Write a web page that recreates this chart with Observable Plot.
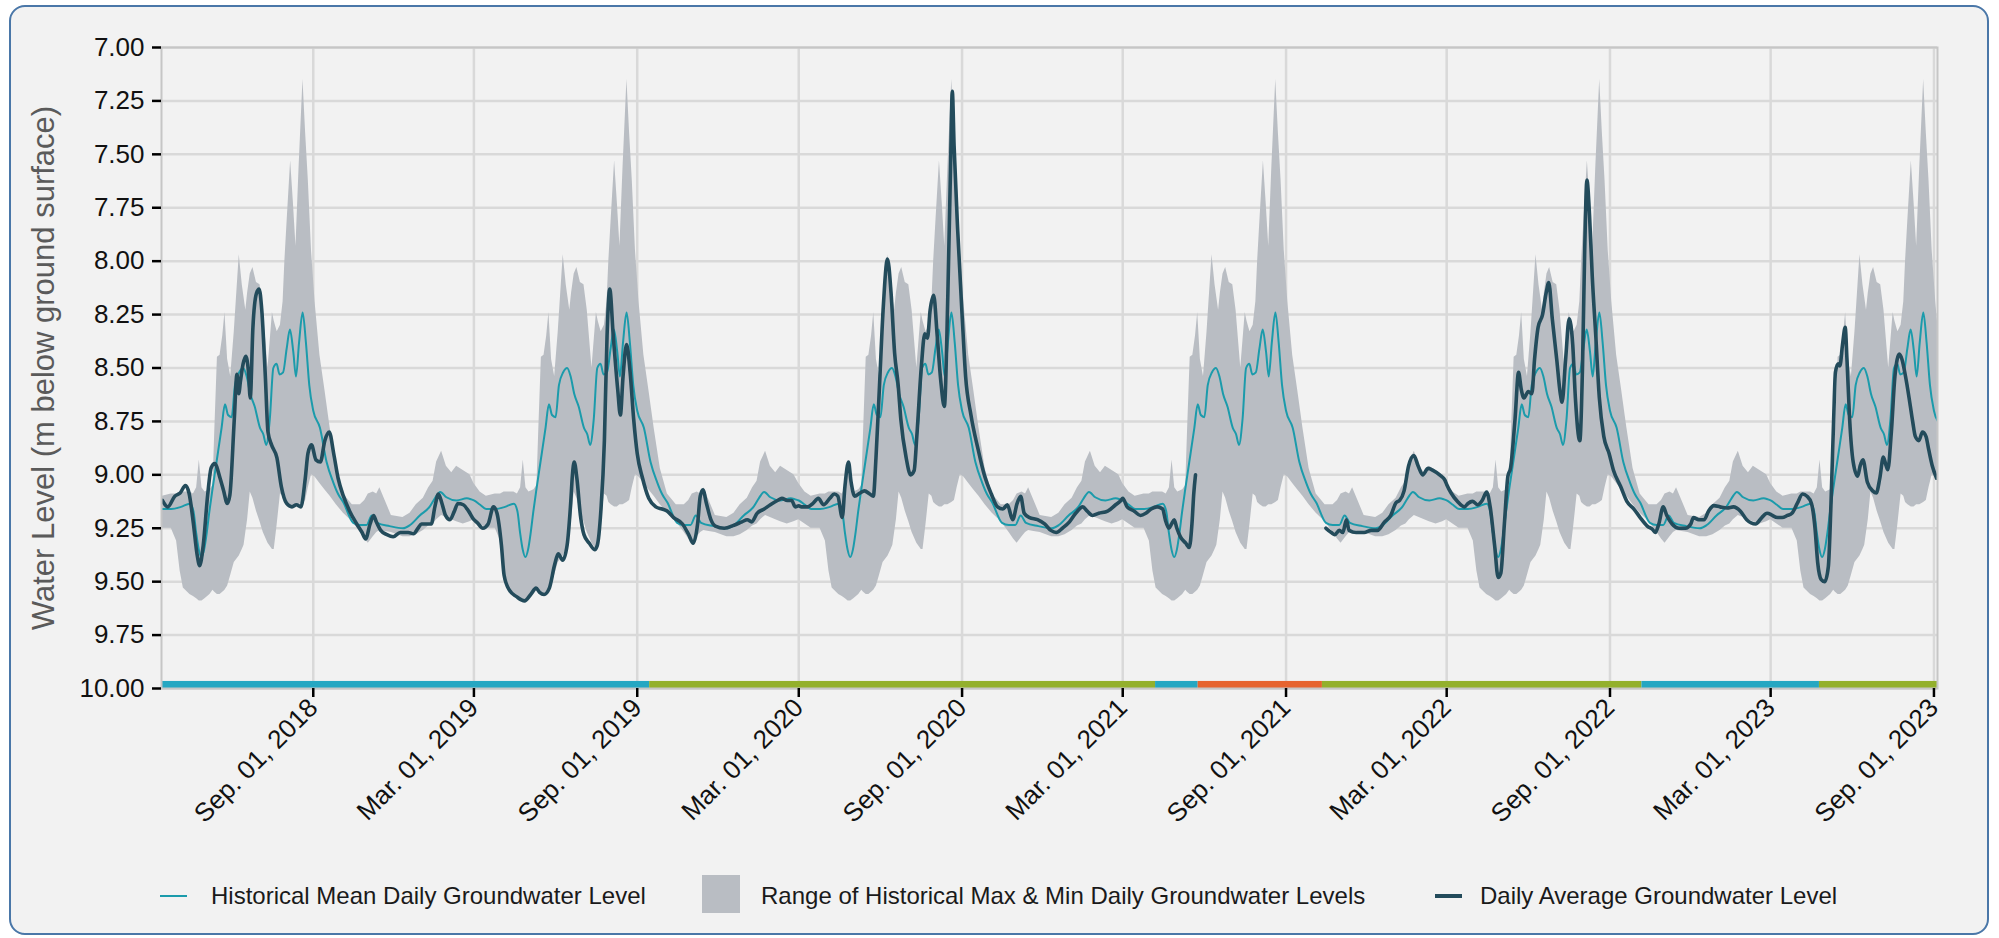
<!DOCTYPE html>
<html>
<head>
<meta charset="utf-8">
<script src="https://cdn.jsdelivr.net/npm/d3@7"></script>
<script src="https://cdn.jsdelivr.net/npm/@observablehq/plot@0.6"></script>
<style>
  html, body { margin: 0; padding: 0; background: #ffffff; }
  body { width: 1999px; height: 938px; position: relative; overflow: hidden; font-family: "Liberation Sans", Arial, sans-serif; }
  #panel { position: absolute; left: 9px; top: 5px; width: 1976px; height: 926px; border: 2px solid #4a77a8; border-radius: 16px; background: #f2f2f2; }
  #chart { position: absolute; left: 0; top: 0; }
  .leg { position: absolute; font-size: 24px; color: #1a1a1a; line-height: 1; white-space: nowrap; }
  .legline { position: absolute; }
  .legrect { position: absolute; background: #b9bdc3; }
</style>
</head>
<body>
<div id="panel"></div>
<div id="chart"></div>
<div id="legend"></div>
<script>
// ---------- axis ticks ----------
const yTicks = [7.00, 7.25, 7.50, 7.75, 8.00, 8.25, 8.50, 8.75, 9.00, 9.25, 9.50, 9.75, 10.00];
const xTicks = ["2018-09-01", "2019-03-01", "2019-09-01", "2020-03-01", "2020-09-01", "2021-03-01",
                "2021-09-01", "2022-03-01", "2022-09-01", "2023-03-01", "2023-09-01"];
const monthAbbr = ["Jan.", "Feb.", "Mar.", "Apr.", "May", "Jun.", "Jul.", "Aug.", "Sep.", "Oct.", "Nov.", "Dec."];
const xDomain = ["2018-03-14", "2023-09-05"];

// ---------- historical statistics (by days since March 1) ----------
const histBandDay = [0, 7, 14, 24, 30, 34, 37.6, 45, 49, 52.6, 55.6, 58.6, 62, 67.6, 71, 73, 76, 79, 82, 84.5,
  87.5, 91, 95, 100.6, 104, 106, 108, 110, 113, 116, 120, 124, 127.7, 133, 138, 140, 142, 143.4, 147, 150,
  152, 154.7, 158.5, 161.5, 164.5, 168, 172.4, 175.4, 178.4, 182, 186, 191.5, 197, 203, 210, 218, 228, 237,
  242, 246, 251.6, 255.5, 259, 265, 272, 285, 293, 300, 308, 314, 319, 323, 328.6, 334, 340, 345.5, 353, 360.5];
const histMax = [9.04, 9.08, 9.10, 9.09, 9.09, 9.08, 9.08, 9.08, 9.09, 9.06, 8.93, 9.06, 9.08, 9.07, 9.05, 8.80, 8.45, 8.44, 8.35, 8.24,
  8.46, 8.54, 8.33, 7.97, 8.11, 8.17, 8.23, 8.15, 8.06, 8.03, 8.10, 8.11, 8.23, 8.50, 8.24, 8.28, 8.31, 8.33, 8.30, 8.19,
  8.00, 7.80, 7.53, 7.72, 7.93, 7.56, 7.15, 7.40, 7.62, 7.95, 8.19, 8.44, 8.60, 8.78, 8.97, 9.09, 9.14, 9.14,
  9.12, 9.09, 9.08, 9.09, 9.06, 9.12, 9.19, 9.20, 9.18, 9.14, 9.11, 9.06, 9.03, 8.94, 8.89, 8.96, 8.99, 8.96, 8.98, 9.00];
const histMin = [9.21, 9.23, 9.25, 9.25, 9.31, 9.45, 9.53, 9.56, 9.57, 9.58, 9.59, 9.59, 9.58, 9.56, 9.54, 9.55, 9.56, 9.56, 9.55, 9.54,
  9.52, 9.47, 9.41, 9.38, 9.35, 9.33, 9.27, 9.21, 9.08, 9.11, 9.17, 9.22, 9.27, 9.32, 9.35, 9.35, 9.28, 9.23, 9.09, 9.10,
  9.13, 9.14, 9.15, 9.15, 9.14, 9.14, 9.13, 9.12, 9.06, 9.00, 9.01, 9.04, 9.07, 9.10, 9.14, 9.18, 9.22, 9.27,
  9.30, 9.32, 9.29, 9.27, 9.26, 9.265, 9.27, 9.29, 9.29, 9.28, 9.26, 9.24, 9.23, 9.21, 9.19, 9.20, 9.21, 9.22, 9.23, 9.22];
const histMeanDay = [0, 7, 14, 24, 35, 45, 49, 52, 55, 58, 61, 64, 67, 70, 75, 80.7, 84.5, 88, 92, 95.8, 100.6, 105,
  109, 113, 118, 124, 127.7, 131, 135, 139, 142.7, 146, 150, 154, 157.7, 161.5, 164.5, 168, 172, 175.7, 179.5,
  184, 191.5, 199, 206.5, 212, 218, 229, 236.6, 244, 250, 256, 270, 285, 293, 304, 315, 321, 327, 334, 345.5, 357, 362];
const histMean = [9.12, 9.14, 9.16, 9.16, 9.15, 9.135, 9.17, 9.27, 9.35, 9.385, 9.35, 9.27, 9.17, 9.08, 8.94, 8.78, 8.67, 8.72, 8.73, 8.58, 8.52, 8.50,
  8.54, 8.62, 8.68, 8.78, 8.81, 8.86, 8.74, 8.50, 8.48, 8.53, 8.52, 8.41, 8.32, 8.425, 8.54, 8.38, 8.24, 8.38, 8.58,
  8.70, 8.78, 8.94, 9.035, 9.09, 9.13, 9.225, 9.235, 9.235, 9.19, 9.225, 9.24, 9.25, 9.235, 9.19, 9.15, 9.11, 9.08, 9.105, 9.12, 9.11, 9.115];
const histSeasons = [2017, 2018, 2019, 2020, 2021, 2022, 2023];

// ---------- daily average groundwater level (days since March 1 of each season) ----------
const day2018 = [14, 20, 28, 34, 40, 44, 49, 53, 56, 60, 65, 69, 73, 79, 83, 87, 90, 95, 98, 100, 102, 105, 108, 111, 113,
  116, 120, 123, 126, 130, 133, 137, 143, 148, 154, 160, 165, 170, 175, 178, 182, 187, 192, 197, 202, 207, 212, 218,
  225, 233, 239, 243, 248, 252, 255, 260, 267, 274, 282, 291, 297, 302, 306, 312, 317, 321, 325, 329, 333, 338, 343,
  347, 353, 359];
const lvl2018 = [9.12, 9.15, 9.10, 9.085, 9.05, 9.085, 9.23, 9.37, 9.425, 9.33, 9.095, 8.967, 8.947, 9.016, 9.075, 9.134, 9.095, 8.74, 8.53, 8.62, 8.56, 8.48, 8.445, 8.52, 8.64,
  8.31, 8.15, 8.13, 8.23, 8.54, 8.80, 8.86, 8.92, 9.055, 9.134, 9.15, 9.14, 9.15, 9.016, 8.90, 8.86, 8.93, 8.94, 8.84, 8.80, 8.90, 9.016, 9.10,
  9.17, 9.23, 9.27, 9.30, 9.23, 9.19, 9.22, 9.26, 9.28, 9.29, 9.27, 9.27, 9.276, 9.25, 9.23, 9.23, 9.23, 9.15, 9.09, 9.134, 9.19, 9.21, 9.17,
  9.134, 9.14, 9.17];
const day2019 = [0, 4, 10, 16, 22, 26, 31, 34, 40, 48, 57, 64, 70, 74, 79, 85, 91, 95, 100, 105, 109, 111, 113, 116, 120,
  124, 130, 136, 139, 143, 147, 150, 153, 157, 162, 165, 168, 172, 176, 180, 184, 190, 197, 205, 212, 218, 225, 235,
  242, 247, 252, 255, 258, 262, 267, 272, 282, 293, 302, 308, 313, 319, 327, 334, 342, 347, 353, 358, 362];
const lvl2019 = [9.21, 9.225, 9.25, 9.23, 9.15, 9.18, 9.33, 9.47, 9.54, 9.57, 9.59, 9.56, 9.53, 9.55, 9.56, 9.53, 9.42, 9.37, 9.40, 9.33, 9.134, 9.00, 8.94, 9.016, 9.19,
  9.28, 9.32, 9.35, 9.33, 9.17, 8.84, 8.35, 8.13, 8.35, 8.60, 8.72, 8.54, 8.39, 8.52, 8.74, 8.90, 9.016, 9.11, 9.15, 9.16, 9.17, 9.20, 9.23,
  9.28, 9.32, 9.23, 9.10, 9.07, 9.134, 9.21, 9.24, 9.25, 9.236, 9.22, 9.21, 9.22, 9.18, 9.16, 9.14, 9.12, 9.11, 9.12, 9.12, 9.15];
const day2020 = [0, 3, 10, 16, 22, 28, 35, 40, 44, 49, 52, 56, 59, 63, 69, 74, 80, 84, 87, 91, 95, 100, 104, 108, 112,
  115, 121, 126, 130, 133, 138, 142, 145, 148, 152, 156, 160, 164, 168, 171, 173, 175, 179, 184, 188, 194, 202, 209,
  217, 224, 230, 235, 241, 246, 250, 254, 260, 269, 277, 284, 290, 297, 305, 312, 320, 325, 331, 338, 348, 357, 363];
const lvl2020 = [9.145, 9.15, 9.15, 9.134, 9.11, 9.14, 9.11, 9.09, 9.10, 9.20, 9.055, 8.94, 9.035, 9.10, 9.085, 9.075, 9.09, 9.10, 8.92, 8.58, 8.23, 7.99, 8.15, 8.43, 8.58,
  8.74, 8.92, 9.00, 8.98, 8.82, 8.50, 8.34, 8.36, 8.23, 8.16, 8.35, 8.56, 8.68, 8.15, 7.56, 7.205, 7.46, 7.85, 8.25, 8.54, 8.72, 8.88, 9.00,
  9.09, 9.15, 9.16, 9.14, 9.21, 9.134, 9.10, 9.18, 9.20, 9.21, 9.23, 9.26, 9.27, 9.25, 9.22, 9.18, 9.15, 9.17, 9.19, 9.18, 9.17, 9.14, 9.12];
const day2021 = [0, 5, 13, 20, 26, 32, 39, 45, 48, 52, 55, 58, 61, 65, 71, 75, 78, 80, 82, 150,
  229, 235, 239, 244, 248, 252, 255, 263, 272, 280, 287, 295, 302, 308, 312, 317, 322, 328, 333, 338, 344, 350, 357, 363];
const lvl2021 = [9.11, 9.15, 9.17, 9.19, 9.18, 9.16, 9.15, 9.16, 9.21, 9.25, 9.23, 9.21, 9.25, 9.29, 9.32, 9.34, 9.23, 9.09, 9.00, null,
  9.25, 9.27, 9.28, 9.26, 9.27, 9.21, 9.26, 9.27, 9.27, 9.26, 9.26, 9.22, 9.19, 9.13, 9.12, 9.075, 8.96, 8.91, 8.96, 9.00, 8.97, 8.98, 9.00, 9.025];
const day2022 = [0, 5, 12, 20, 24, 29, 35, 40, 45, 49, 54, 58, 61, 65, 69, 72, 77, 81, 84, 87, 92, 96, 99, 103, 108,
  112, 115, 119, 124, 128, 130, 134, 138, 142, 145, 150, 153, 155.5, 158, 161, 164, 168, 172, 177, 183, 188, 196,
  203, 211, 218, 226, 232, 235, 239, 244, 248, 254, 262, 269, 275, 278, 284, 290, 295, 301, 308, 316, 323, 331,
  338, 348, 355, 361];
const lvl2022 = [9.045, 9.085, 9.124, 9.15, 9.134, 9.124, 9.14, 9.12, 9.08, 9.15, 9.33, 9.48, 9.46, 9.23, 9.006, 8.967, 8.74, 8.52, 8.60, 8.64, 8.61, 8.62, 8.46, 8.31, 8.25,
  8.15, 8.10, 8.27, 8.46, 8.62, 8.66, 8.46, 8.27, 8.39, 8.64, 8.84, 8.50, 7.95, 7.62, 7.79, 8.07, 8.35, 8.64, 8.82, 8.90, 8.98, 9.055,
  9.124, 9.16, 9.20, 9.24, 9.256, 9.27, 9.23, 9.15, 9.19, 9.23, 9.25, 9.25, 9.23, 9.20, 9.21, 9.21, 9.17, 9.144, 9.15, 9.155, 9.15, 9.17,
  9.21, 9.23, 9.20, 9.18];
const day2023 = [0, 2, 8, 13, 19, 24, 30, 36, 41, 46, 50, 53, 57, 61, 65, 68, 71, 73, 76, 78, 81, 84, 86, 89, 93,
  98, 101, 104, 109, 115, 119, 123, 127, 130, 132, 136, 140, 145, 148, 152, 156, 160, 163, 167, 171, 175, 178, 182, 187];
const lvl2023 = [9.185, 9.19, 9.20, 9.20, 9.19, 9.18, 9.134, 9.09, 9.10, 9.134, 9.25, 9.41, 9.49, 9.50, 9.43, 9.134, 8.74, 8.52, 8.48, 8.49, 8.39, 8.31, 8.46, 8.74, 8.94,
  9.006, 8.956, 8.93, 9.035, 9.075, 9.085, 9.016, 8.917, 8.956, 8.976, 8.80, 8.54, 8.435, 8.46, 8.54, 8.64, 8.75, 8.82, 8.84, 8.80, 8.82, 8.88, 8.956, 9.016];

// ---------- status strip along the bottom ----------
const stripStart  = ["2018-03-14", "2019-09-15", "2021-04-07", "2021-05-25", "2021-10-12", "2022-10-07", "2023-04-25"];
const stripEnd    = ["2019-09-15", "2021-04-07", "2021-05-25", "2021-10-12", "2022-10-07", "2023-04-25", "2023-09-05"];
const stripStatus = ["blue", "green", "blue", "orange", "green", "blue", "green"];
const statusColor = {blue: "#25a7c2", green: "#93b02c", orange: "#e6642f"};

// ---------- colours ----------
const meanColor = "#1b9bab";
const dailyColor = "#234b5b";
const bandColor = "#b9bdc3";

// ---------- build tables ----------
const DAY = 864e5;
const seasonDate = (year, d) => new Date(Date.UTC(year, 2, 1) + d * DAY);

const bandRows = [];
const meanRows = [];
for (const yr of histSeasons) {
  histBandDay.forEach((d, i) => bandRows.push({date: seasonDate(yr, d), max: histMax[i], min: histMin[i]}));
  histMeanDay.forEach((d, i) => meanRows.push({date: seasonDate(yr, d), mean: histMean[i]}));
}
const dailySeasons = [
  [2018, day2018, lvl2018], [2019, day2019, lvl2019], [2020, day2020, lvl2020],
  [2021, day2021, lvl2021], [2022, day2022, lvl2022], [2023, day2023, lvl2023]
];
const dailyRows = [];
for (const [yr, days, lvls] of dailySeasons) {
  days.forEach((d, i) => dailyRows.push({date: seasonDate(yr, d), level: lvls[i]}));
}
const stripRows = stripStart.map((s, i) => ({start: new Date(s), end: new Date(stripEnd[i]), status: stripStatus[i]}));
const xTickDates = xTicks.map(s => new Date(s));
const fmtDate = d => `${monthAbbr[d.getUTCMonth()]} ${String(d.getUTCDate()).padStart(2, "0")}, ${d.getUTCFullYear()}`;

const W = 1999, H = 860;
const chart = Plot.plot({
  width: W,
  height: H,
  marginTop: 47,
  marginBottom: H - 688,
  marginLeft: 161,
  marginRight: W - 1937,
  style: {background: "transparent", fontFamily: "'Liberation Sans', Arial, sans-serif", overflow: "visible"},
  x: {type: "utc", domain: xDomain.map(s => new Date(s))},
  y: {domain: [7, 10], reverse: true},
  marks: [
    Plot.gridY(yTicks, {stroke: "#d9d9d9", strokeOpacity: 1, strokeWidth: 2.5}),
    Plot.gridX(xTickDates, {stroke: "#d9d9d9", strokeOpacity: 1, strokeWidth: 2.5}),
    Plot.areaY(bandRows, {x: "date", y1: "min", y2: "max", fill: bandColor, clip: true}),
    Plot.line(meanRows, {x: "date", y: "mean", stroke: meanColor, strokeWidth: 2, curve: "monotone-x", clip: true}),
    Plot.line(dailyRows, {x: "date", y: "level", stroke: dailyColor, strokeWidth: 3.6, curve: "monotone-x", clip: true}),
    Plot.rect(stripRows, {x1: "start", x2: "end", y1: 10, y2: 9.967, fill: d => statusColor[d.status], clip: true}),
    Plot.frame({stroke: "#c6c6c6", strokeWidth: 2}),
    Plot.axisY(yTicks, {tickFormat: d3.format(".2f"), tickSize: 9, tickPadding: 8, fontSize: 26, stroke: "#000", strokeWidth: 2.5, fill: "#111", label: null}),
    Plot.axisX(xTickDates, {tickFormat: fmtDate, tickRotate: -45, tickSize: 9, tickPadding: 6, fontSize: 26, stroke: "#000", strokeWidth: 2.5, fill: "#111", label: null}),
    Plot.text(["Water Level (m below ground surface)"], {frameAnchor: "left", textAnchor: "middle", rotate: -90, dx: -117, fontSize: 31, fill: "#5a5a5a"})
  ]
});
document.getElementById("chart").appendChild(chart);

// ---------- legend ----------
const legend = document.getElementById("legend");
legend.innerHTML = `
  <div class="legline" style="left:160px;top:895px;width:27px;height:2px;background:${meanColor}"></div>
  <div class="leg" style="left:211px;top:884px">Historical Mean Daily Groundwater Level</div>
  <div class="legrect" style="left:702px;top:875px;width:38px;height:38px"></div>
  <div class="leg" style="left:761px;top:884px">Range of Historical Max &amp; Min Daily Groundwater Levels</div>
  <div class="legline" style="left:1435px;top:894px;width:27px;height:4px;background:${dailyColor}"></div>
  <div class="leg" style="left:1480px;top:884px">Daily Average Groundwater Level</div>
`;
</script>
</body>
</html>
